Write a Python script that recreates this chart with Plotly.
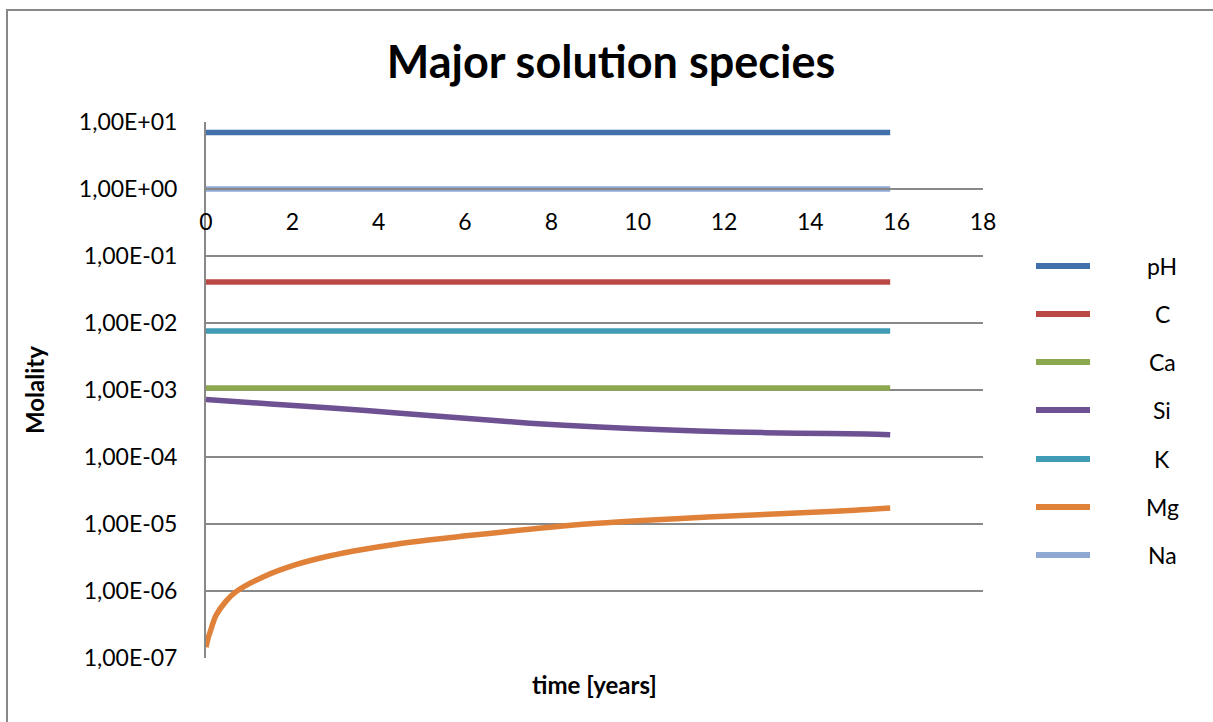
import plotly.graph_objects as go

# ---- data ----
t_const = [0, 15.85]
pH = [7.0, 7.0]
C = [0.041, 0.041]
Ca = [0.00107, 0.00107]
K = [0.0076, 0.0076]
Na = [1.0, 1.0]

t_si = [0, 1.5, 2.9, 4.5, 6.0, 7.5, 9.1, 10.6, 12.2, 13.7, 15.3, 15.85]
Si = [7.2e-4, 6.2e-4, 5.4e-4, 4.5e-4, 3.8e-4, 3.2e-4, 2.8e-4, 2.55e-4, 2.36e-4, 2.27e-4, 2.2e-4, 2.15e-4]

t_mg = [0, 0.05, 0.1, 0.23, 0.46, 0.69, 1.32, 2.08, 2.85, 3.63, 4.40, 5.16, 5.79, 8.52, 11.62, 14.70, 15.85]
Mg = [1.45e-7, 2.0e-7, 2.5e-7, 4.3e-7, 7.0e-7, 9.7e-7, 1.62e-6, 2.47e-6, 3.33e-6, 4.17e-6, 5.0e-6,
      5.77e-6, 6.4e-6, 9.7e-6, 1.27e-5, 1.56e-5, 1.73e-5]

x_ticks = [0, 2, 4, 6, 8, 10, 12, 14, 16, 18]
y_ticks = [1e-7, 1e-6, 1e-5, 1e-4, 1e-3, 1e-2, 1e-1, 1e0, 1e1]
y_ticktext = ["1,00E-07", "1,00E-06", "1,00E-05", "1,00E-04", "1,00E-03",
              "1,00E-02", "1,00E-01", "1,00E+00", "1,00E+01"]

names = ["pH", "C", "Ca", "Si", "K", "Mg", "Na"]
colors = {"pH": "#4170AC", "C": "#BA4845", "Ca": "#8CA84E", "Si": "#6E5192",
          "K": "#409CB4", "Mg": "#E0813A", "Na": "#90A9D2"}

series = {
    "pH": (t_const, pH), "C": (t_const, C), "Ca": (t_const, Ca), "Si": (t_si, Si),
    "K": (t_const, K), "Mg": (t_mg, Mg), "Na": (t_const, Na),
}

FONT = "Lato"
W, H = 1213, 722
L, R, T, B = 206, 230, 122, 64
pw = W - L - R
ph = H - T - B


def px2x(px):
    return (px - L) / pw


def py2y(py):
    return (H - B - py) / ph


fig = go.Figure()
for n in names:
    xs, ys = series[n]
    fig.add_trace(go.Scatter(x=xs, y=ys, mode="lines", name=n,
                             line=dict(color=colors[n], width=5.5, shape="spline", smoothing=0.8),
                             showlegend=False))

shapes = []
annotations = []

# chart border
shapes.append(dict(type="rect", xref="paper", yref="paper",
                   x0=px2x(7), x1=px2x(1225), y0=py2y(735), y1=py2y(10),
                   line=dict(color="#888888", width=2), fillcolor="rgba(0,0,0,0)", layer="below"))

# manual legend
leg_y = [266, 314, 362, 410, 459, 507, 555]
for n, yy in zip(names, leg_y):
    shapes.append(dict(type="line", xref="paper", yref="paper",
                       x0=px2x(1036), x1=px2x(1090), y0=py2y(yy), y1=py2y(yy),
                       line=dict(color=colors[n], width=6)))
    annotations.append(dict(text=n, xref="paper", yref="paper", x=px2x(1162), y=py2y(yy),
                            showarrow=False, xanchor="center", yanchor="middle",
                            font=dict(family=FONT, size=23, color="black")))

# axis titles
annotations.append(dict(text="<b>time [years]</b>", xref="paper", yref="paper",
                        x=px2x(594), y=py2y(684), showarrow=False,
                        xanchor="center", yanchor="middle",
                        font=dict(family=FONT, size=24, color="black")))
annotations.append(dict(text="<b>Molality</b>", xref="paper", yref="paper",
                        x=px2x(34), y=py2y(390), showarrow=False, textangle=-90,
                        xanchor="center", yanchor="middle",
                        font=dict(family=FONT, size=24, color="black")))

fig.update_layout(
    width=W, height=H,
    margin=dict(l=L, r=R, t=T, b=B),
    paper_bgcolor="white", plot_bgcolor="white",
    title=dict(text="<b>Major solution species</b>", x=px2x(611), xref="paper",
               xanchor="center", y=1 - 62 / H, yref="container", yanchor="middle",
               font=dict(family=FONT, size=45, color="black")),
    shapes=shapes, annotations=annotations,
    xaxis=dict(range=[0, 18], tickvals=x_ticks, ticktext=[str(v) for v in x_ticks],
               showgrid=False, zeroline=False, showline=True, linecolor="#888888", linewidth=2,
               anchor="free", position=py2y(189), ticks="", ticklabelstandoff=12,
               tickfont=dict(family=FONT, size=23, color="black")),
    yaxis=dict(type="log", range=[-7, 1], tickvals=y_ticks, ticktext=y_ticktext,
               showgrid=True, gridcolor="#888888", gridwidth=2,
               showline=True, linecolor="#888888", linewidth=2, zeroline=False,
               ticks="", ticklabelstandoff=22,
               tickfont=dict(family=FONT, size=23, color="black")),
    font=dict(family=FONT),
)

fig.write_html("out.html")
